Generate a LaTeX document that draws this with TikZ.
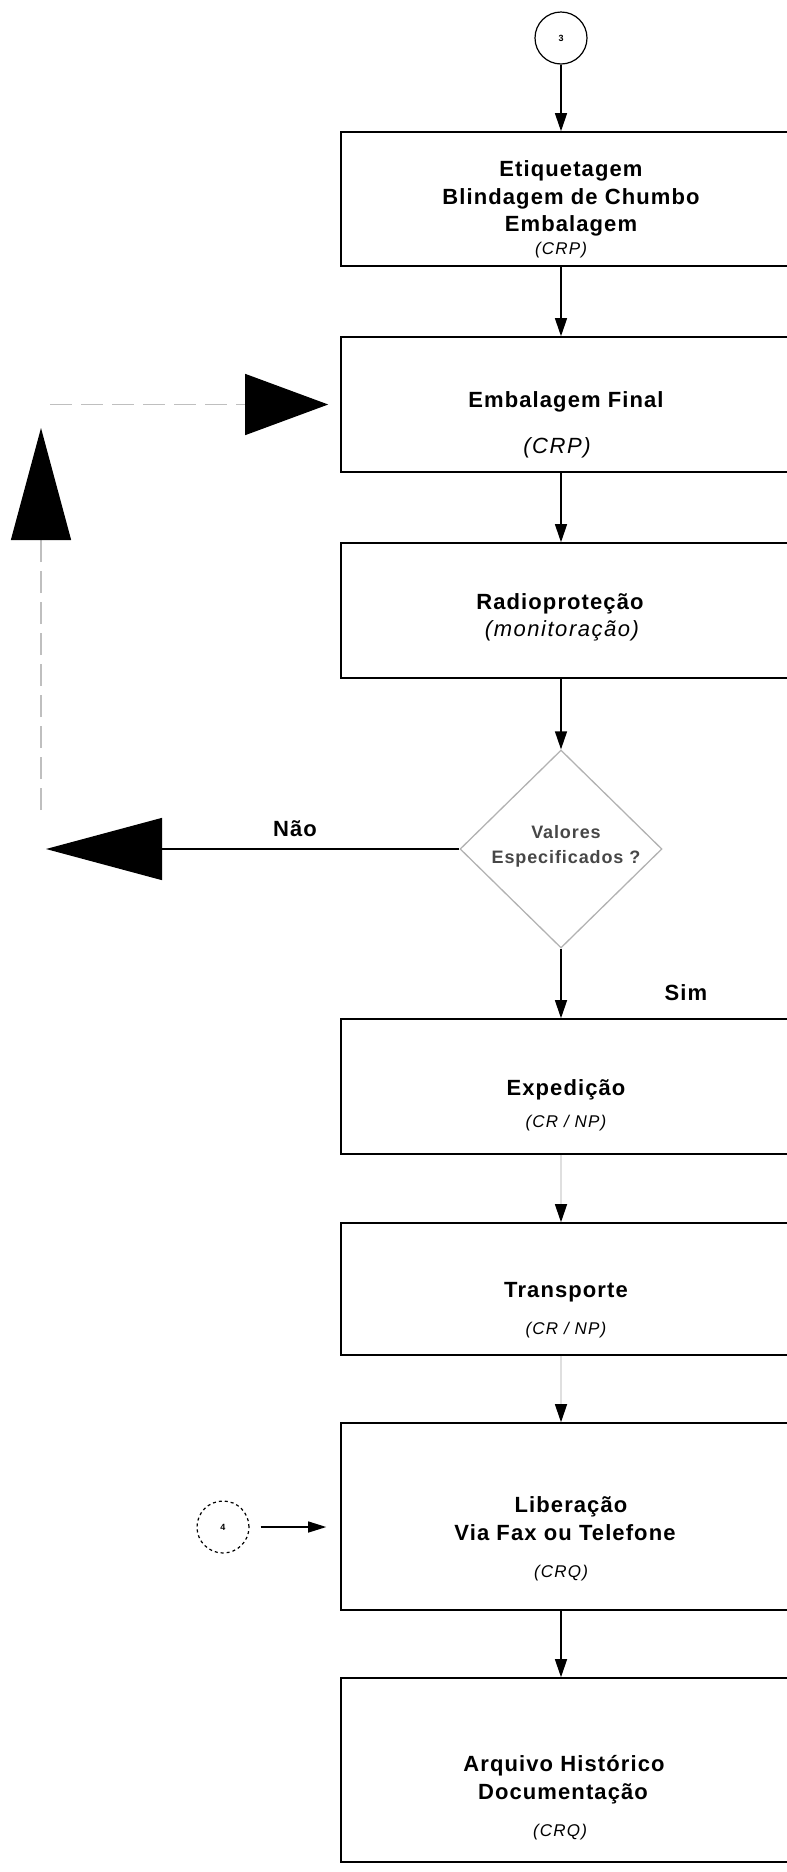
\documentclass[tikz,border=0pt]{standalone}
\usepackage{fontspec}
\setmainfont{Liberation Sans}
\newfontfamily\headfont[LetterSpace=5]{Liberation Sans}
\newfontfamily\notefont[LetterSpace=7]{Liberation Sans}
\usetikzlibrary{arrows.meta,shapes.geometric}

\begin{document}
\begin{tikzpicture}[x=1pt,y=-1pt,
  stagebox/.style={draw=black,line width=1.6pt,minimum width=459pt,inner sep=0pt},
  flow/.style={line width=1.3pt,-{Triangle[length=18pt,width=12pt]}},
  faded/.style={draw=gray!25,line width=1.3pt,-{Triangle[length=18pt,width=12pt,color=black]}},
  title/.style={font=\headfont\bfseries\fontsize{22}{26}\selectfont,anchor=base,inner sep=0pt},
  note/.style={font=\notefont\itshape\fontsize{17}{20}\selectfont,anchor=base,inner sep=0pt},
  bignote/.style={font=\notefont\itshape\fontsize{22}{26}\selectfont,anchor=base,inner sep=0pt},
  decisiontext/.style={font=\headfont\bfseries\fontsize{18}{22}\selectfont,text=black!72,anchor=base,inner sep=0pt},
  loopline/.style={draw=gray!50,line width=1.3pt,dash pattern=on 22pt off 9pt},
  connector/.style={circle,draw=black,line width=1.2pt,minimum size=52pt,inner sep=0pt,
    font=\bfseries\fontsize{9}{10}\selectfont}
]
\useasboundingbox (0,0) rectangle (787,1872);
\clip (0,0) rectangle (787,1872);

% vertical flow axis
\coordinate (axis) at (561,0);

% entry connector
\node[connector] (c3) at (561,38) {3};

% process boxes (they run past the right margin)
\node[stagebox,minimum height=134pt] (b1) at (570.5,199) {};
\node[stagebox,minimum height=135pt] (b2) at (570.5,404.5) {};
\node[stagebox,minimum height=135pt] (b3) at (570.5,610.5) {};
\node[diamond,draw=gray!60,line width=1.3pt,minimum width=202pt,minimum height=198pt,inner sep=0pt] (dec) at (561,849) {};
\node[stagebox,minimum height=135pt] (b4) at (570.5,1086.5) {};
\node[stagebox,minimum height=132pt] (b5) at (570.5,1289) {};
\node[stagebox,minimum height=187pt] (b6) at (570.5,1516.5) {};
\node[stagebox,minimum height=184pt] (b7) at (570.5,1770) {};

% box texts
\node[title] (t1a) at (571,176) {Etiquetagem};
\node[title] (t1b) at (571,204) {Blindagem de Chumbo};
\node[title] (t1c) at (571,231) {Embalagem};
\node[note]  (t1d) at (561,254) {(CRP)};

\node[title]   (t2a) at (566,407) {Embalagem Final};
\node[bignote] (t2b) at (557,453) {(CRP)};

\node[title]   (t3a) at (560,609) {Radioproteção};
\node[bignote] (t3b) at (562,636) {(monitoração)};

\node[decisiontext] (d1) at (566,838) {Valores};
\node[decisiontext] (d2) at (566,863) {Especificados ?};

\node[title] (t4a) at (566,1095) {Expedição};
\node[note]  (t4b) at (566,1127) {(CR / NP)};

\node[title] (t5a) at (566,1297) {Transporte};
\node[note]  (t5b) at (566,1334) {(CR / NP)};

\node[title] (t6a) at (571,1512) {Liberação};
\node[title] (t6b) at (565,1540) {Via Fax ou Telefone};
\node[note]  (t6c) at (561,1577) {(CRQ)};

\node[title] (t7a) at (564,1771) {Arquivo Histórico};
\node[title] (t7b) at (563,1799) {Documentação};
\node[note]  (t7c) at (560,1836) {(CRQ)};

% branch labels
\node[title] (nao) at (295,836) {Não};
\node[title] (sim) at (686,1000) {Sim};

% main flow
\draw[flow] (c3.south) -- (c3.south |- b1.north);
\draw[flow] (axis |- b1.south) -- (axis |- b2.north);
\draw[flow] (axis |- b2.south) -- (axis |- b3.north);
\draw[flow] (axis |- b3.south) -- (dec.north);
\draw[flow] (dec.south) -- (axis |- b4.north);
\draw[faded] (axis |- b4.south) -- (axis |- b5.north);
\draw[faded] (axis |- b5.south) -- (axis |- b6.north);
\draw[flow] (axis |- b6.south) -- (axis |- b7.north);

% return path when values are out of specification
\coordinate (naotip) at (46,849);
\coordinate (upfoot) at (41,810);
\coordinate (uptip) at (41,428);
\coordinate (backfoot) at (50,404.5);
\draw[line width=1.3pt,-{Triangle[length=116pt,width=62pt]}] (dec.west) -- (naotip);
\draw[loopline,-{Triangle[length=112pt,width=60pt,color=black]}] (upfoot) -- (uptip);
\draw[loopline,-{Triangle[length=83pt,width=61pt,color=black]},shorten >=12pt] (backfoot) -- (b2.west);

% off-page connector into the release step
\node[connector,dashed] (c4) at (223,1527) {4};
\draw[line width=1.3pt,-{Triangle[length=18pt,width=11pt]},shorten <=11pt,shorten >=14pt]
  (c4.east) -- (c4.east -| b6.west);
\end{tikzpicture}
\end{document}
